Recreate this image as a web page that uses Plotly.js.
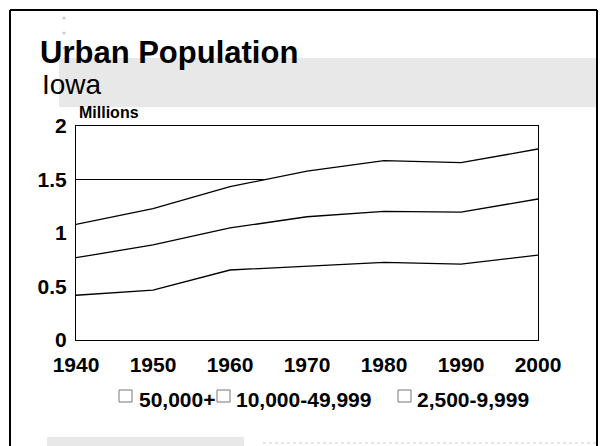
<!DOCTYPE html>
<html>
<head>
<meta charset="utf-8">
<script src="https://cdn.plot.ly/plotly-3.0.1.min.js"></script>
<style>html,body{margin:0;padding:0;background:#fff;}#chart{width:602px;height:446px;}</style>
</head>
<body>
<div id="chart"></div>
<script>
// ---- data ----
var years = [1940, 1950, 1960, 1970, 1980, 1990, 2000];
var pop50k = [0.418, 0.467, 0.654, 0.689, 0.726, 0.710, 0.794];
var pop10k = [0.351, 0.421, 0.393, 0.463, 0.476, 0.486, 0.524];
var pop2500 = [0.312, 0.339, 0.386, 0.427, 0.474, 0.461, 0.467];
var seriesNames = ['50,000+', '10,000-49,999', '2,500-9,999'];
var yTicks = [0, 0.5, 1, 1.5, 2];
var yTickText = ['0', '0.5', '1', '1.5', '2'];
var titleText = 'Urban Population';
var subtitleText = 'Iowa';
var unitText = 'Millions';

// ---- layout helpers ----
var W = 602, H = 446;
var M = {l: 76, r: 64, t: 126, b: 106};
var PW = W - M.l - M.r, PH = H - M.t - M.b;
function px(x) { return (x - M.l) / PW; }
function py(y) { return 1 - (y - M.t) / PH; }
var FONT = 'Liberation Sans, Arial, Helvetica, sans-serif';

var series = [pop50k, pop10k, pop2500];
var traces = series.map(function (vals, i) {
  return {
    x: years, y: vals, name: seriesNames[i], type: 'scatter', mode: 'lines',
    stackgroup: 'one', fillcolor: '#ffffff',
    line: {color: '#000000', width: 1.3}, showlegend: false, hoverinfo: 'skip'
  };
});

var shapes = [
  // grey banner band
  {type: 'rect', xref: 'paper', yref: 'paper', x0: px(59), x1: px(597), y0: py(58), y1: py(107),
   fillcolor: '#e8e8e8', line: {width: 0}, layer: 'below'},
  // bottom grey block
  {type: 'rect', xref: 'paper', yref: 'paper', x0: px(47), x1: px(244), y0: py(437), y1: py(446),
   fillcolor: '#e8e8e8', line: {width: 0}, layer: 'below'},
  // dotted line at bottom
  {type: 'line', xref: 'paper', yref: 'paper', x0: px(263), x1: px(597), y0: py(443), y1: py(443),
   line: {color: '#cccccc', width: 1, dash: 'dot'}, layer: 'below'},
  // outer frame
  {type: 'line', xref: 'paper', yref: 'paper', x0: px(10), x1: px(10), y0: py(10), y1: py(446),
   line: {color: '#000', width: 2}},
  {type: 'line', xref: 'paper', yref: 'paper', x0: px(10), x1: px(597), y0: py(10), y1: py(10),
   line: {color: '#000', width: 2}},
  {type: 'line', xref: 'paper', yref: 'paper', x0: px(597), x1: px(597), y0: py(10), y1: py(446),
   line: {color: '#000', width: 2}}
];
// small dots top-left
[18, 33, 48].forEach(function (y) {
  shapes.push({type: 'circle', xref: 'paper', yref: 'paper', x0: px(62.5), x1: px(65.5), y0: py(y - 1.5), y1: py(y + 1.5),
    fillcolor: '#c8c8c8', line: {width: 0}, layer: 'below'});
});

// legend (boxes + labels)
var legBoxes = [119, 217, 398];
var legText = [137, 234, 415];
var annotations = [
  {text: subtitleText, xref: 'paper', yref: 'paper', x: px(40), y: py(84), xanchor: 'left', yanchor: 'middle',
   showarrow: false, font: {family: FONT, size: 28, color: '#000'}},
  {text: unitText, xref: 'paper', yref: 'paper', x: px(77), y: py(113), xanchor: 'left', yanchor: 'middle',
   showarrow: false, font: {family: FONT, size: 16, color: '#000', weight: 'bold'}}
];
seriesNames.forEach(function (n, i) {
  shapes.push({type: 'rect', xref: 'paper', yref: 'paper', x0: px(legBoxes[i]), x1: px(legBoxes[i] + 13),
    y0: py(390), y1: py(402), fillcolor: '#fff', line: {color: '#777', width: 1}});
  annotations.push({text: n, xref: 'paper', yref: 'paper', x: px(legText[i]), y: py(399), xanchor: 'left', yanchor: 'middle',
    showarrow: false, font: {family: FONT, size: 21, color: '#000', weight: 'bold'}});
});

var layout = {
  width: W, height: H,
  margin: M,
  paper_bgcolor: '#fff', plot_bgcolor: '#fff',
  showlegend: false,
  title: {text: titleText, x: 40 / W, xanchor: 'left', xref: 'container', yref: 'container',
          y: 1 - 52 / H, yanchor: 'middle', font: {family: FONT, size: 31, color: '#000', weight: 'bold'}},
  xaxis: {range: [1940, 2000], tickvals: years, ticktext: years.map(String), showgrid: false, zeroline: false,
          showline: true, mirror: true, linecolor: '#000', linewidth: 1, ticks: '', ticklabelstandoff: 6,
          tickfont: {family: FONT, size: 21, color: '#000', weight: 'bold'}, fixedrange: true},
  yaxis: {range: [0, 2], tickvals: yTicks, ticktext: yTickText, showgrid: true, gridcolor: '#000', gridwidth: 1,
          zeroline: false, showline: true, mirror: true, linecolor: '#000', linewidth: 1, ticks: '',
          ticklabelstandoff: 4,
          tickfont: {family: FONT, size: 21, color: '#000', weight: 'bold'}, fixedrange: true},
  shapes: shapes,
  annotations: annotations
};

Plotly.newPlot('chart', traces, layout, {staticPlot: true, displayModeBar: false});
</script>
</body>
</html>
